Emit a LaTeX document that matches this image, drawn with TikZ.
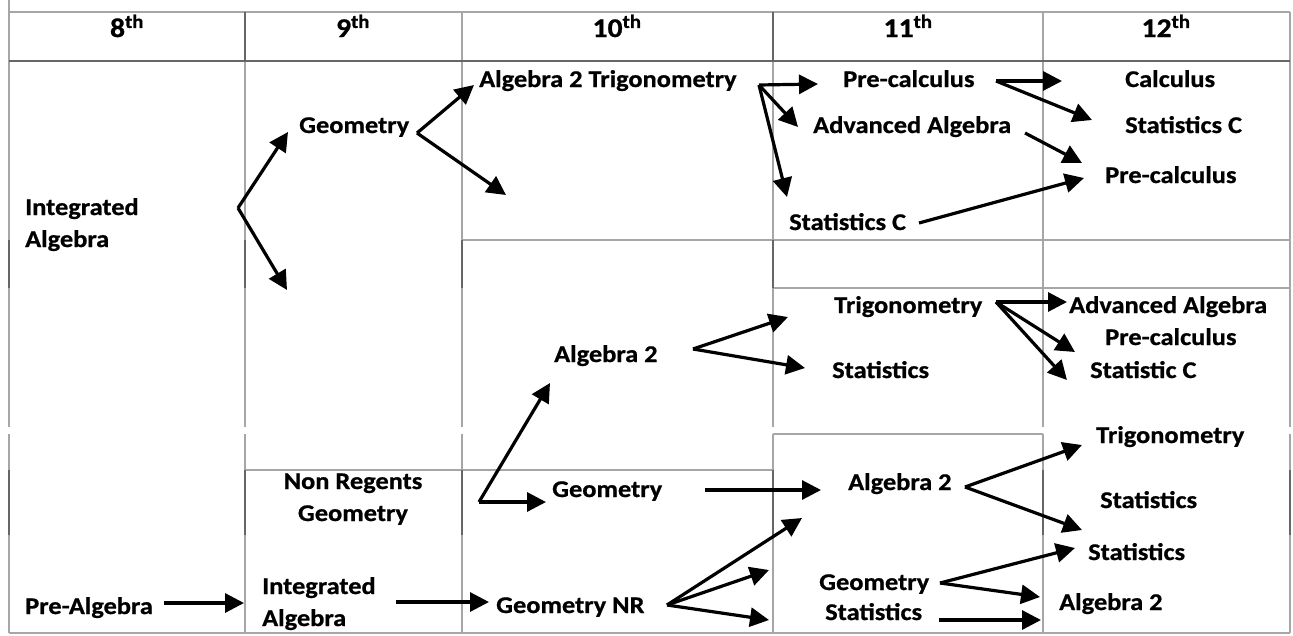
\documentclass[tikz,border=0pt]{standalone}
\usepackage{fontspec}
\setmainfont{Carlito}[FakeStretch=1.1, BoldFeatures={FakeBold=0.8}]
\usetikzlibrary{arrows.meta}

\begin{document}
\begin{tikzpicture}[x=1pt, y=-1pt,
    rule/.style={draw=gray!70, line width=2pt},
    ruledark/.style={draw=black!60, line width=2.2pt},
    course/.style={font=\bfseries\fontsize{24}{32}\selectfont, inner sep=0pt, anchor=base west},
    grade/.style={font=\bfseries\fontsize{27}{30}\selectfont, inner sep=0pt, anchor=base},
    arr/.style={line width=3.2pt, -{Triangle[length=19pt,width=19pt]}},
]
\useasboundingbox (0,0) rectangle (1293,635);

% Table rules
\foreach \x in {9,245,462,773,1043,1290}
  \draw[rule] (\x,12) -- (\x,427) (\x,434) -- (\x,633);
\draw[rule] (9,0) -- (9,12);
\draw[rule] (9,12) -- (1290,12);
\draw[ruledark] (9,61) -- (1290,61);
\draw[rule] (462,240) -- (1290,240);
\draw[rule] (773,288) -- (1290,288);
\draw[rule] (773,434) -- (1043,434);
\draw[rule] (245,470) -- (773,470);
\draw[rule] (9,633) -- (1290,633);
\foreach \x in {9,245,462,773}
  \draw[ruledark] (\x,240) -- (\x,288);
\foreach \x in {9,245,462,773,1043,1290}
  \draw[ruledark] (\x,470) -- (\x,535);
\foreach \x in {245,773}
  \draw[ruledark] (\x,12) -- (\x,61);

% Grade headers
\foreach \g/\x in {8/127,9/353,10/617,11/908,12/1166}
  \node[grade] (g\g) at (\x,37) {\g\textsuperscript{th}};

% 8th grade
\node[course, align=left] (ia8) at (25,247) {Integrated\\Algebra};
\node[course] (prealg8) at (25,614) {Pre-Algebra};

% 9th grade
\node[course] (geo9) at (299,133) {Geometry};
\node[course, align=center, anchor=base] (nrgeo9) at (353,521) {Non Regents\\Geometry};
\node[course, align=left] (ia9) at (262,626) {Integrated\\Algebra};

% 10th grade
\node[course] (a2trig10) at (479,87) {Algebra 2 Trigonometry};
\node[course] (alg2-10) at (554,362) {Algebra 2};
\node[course] (geo10) at (552,497) {Geometry};
\node[course] (geonr10) at (496,613) {Geometry NR};

% 11th grade
\node[course] (precalc11) at (843,87) {Pre-calculus};
\node[course] (advalg11) at (813,133) {Advanced Algebra};
\node[course] (statc11) at (789,230) {Statistics C};
\node[course] (trig11) at (834,313) {Trigonometry};
\node[course] (stats11) at (832,378) {Statistics};
\node[course] (alg2-11) at (848,490) {Algebra 2};
\node[course] (geo11) at (819,590) {Geometry};
\node[course] (statsb11) at (825,620) {Statistics};

% 12th grade
\node[course] (calc12) at (1125,87) {Calculus};
\node[course] (statc12) at (1125,133) {Statistics C};
\node[course] (precalc12) at (1105,183) {Pre-calculus};
\node[course] (advalg12) at (1069,313) {Advanced Algebra};
\node[course] (precalcb12) at (1105,345) {Pre-calculus};
\node[course] (statc12b) at (1090,378) {Statistic C};
\node[course] (trig12) at (1096,443) {Trigonometry};
\node[course] (stats12) at (1100,508) {Statistics};
\node[course] (statsb12) at (1088,560) {Statistics};
\node[course] (alg2-12) at (1059,610) {Algebra 2};

% Arrow forks and tips
\coordinate (ia8-fork) at (238,208);
\coordinate (ia8-up) at (288,132);
\coordinate (ia8-down) at (287,290);
\coordinate (geo9-fork) at (417,133);
\coordinate (geo9-up) at (474,85);
\coordinate (geo9-down) at (506,195);
\coordinate (a2trig10-fork) at (759,85);
\coordinate (a2trig10-a) at (818,84);
\coordinate (a2trig10-b) at (798,127);
\coordinate (a2trig10-c) at (787,197);
\coordinate (precalc11-fork) at (996,81);
\coordinate (precalc11-a) at (1062,81);
\coordinate (precalc11-b) at (1092,120);
\coordinate (advalg11-out) at (1025,133);
\coordinate (advalg11-to) at (1082,163);
\coordinate (statc11-out) at (919,223);
\coordinate (statc11-to) at (1084,178);
\coordinate (alg2-10-fork) at (693,349);
\coordinate (alg2-10-a) at (788,317);
\coordinate (alg2-10-b) at (805,368);
\coordinate (trig11-fork) at (996,302);
\coordinate (trig11-a) at (1067,302);
\coordinate (trig11-b) at (1075,352);
\coordinate (trig11-c) at (1067,380);
\coordinate (nr10-fork) at (479,502);
\coordinate (nr10-up) at (550,383);
\coordinate (nr10-right) at (546,502);
\coordinate (geo10-out) at (705,490);
\coordinate (geo10-to) at (821,490);
\coordinate (alg2-11-fork) at (965,487);
\coordinate (alg2-11-a) at (1082,445);
\coordinate (alg2-11-b) at (1082,530);
\coordinate (geonr10-fork) at (667,605);
\coordinate (geonr10-a) at (802,518);
\coordinate (geonr10-b) at (769,570);
\coordinate (geonr10-c) at (769,620);
\coordinate (geo11-fork) at (940,583);
\coordinate (geo11-a) at (1075,548);
\coordinate (geo11-b) at (1040,597);
\coordinate (statsb11-out) at (939,620);
\coordinate (statsb11-to) at (1041,620);
\coordinate (prealg8-out) at (164,603);
\coordinate (prealg8-to) at (244,603);
\coordinate (ia9-out) at (396,602);
\coordinate (ia9-to) at (489,602);

% Arrows
\draw[arr] (ia8-fork) -- (ia8-up);
\draw[arr] (ia8-fork) -- (ia8-down);
\draw[arr] (geo9-fork) -- (geo9-up);
\draw[arr] (geo9-fork) -- (geo9-down);
\foreach \t in {a,b,c}
  \draw[arr] (a2trig10-fork) -- (a2trig10-\t);
\foreach \t in {a,b}
  \draw[arr] (precalc11-fork) -- (precalc11-\t);
\draw[arr] (advalg11-out) -- (advalg11-to);
\draw[arr] (statc11-out) -- (statc11-to);
\foreach \t in {a,b}
  \draw[arr] (alg2-10-fork) -- (alg2-10-\t);
\foreach \t in {a,b,c}
  \draw[arr] (trig11-fork) -- (trig11-\t);
\draw[arr] (nr10-fork) -- (nr10-up);
\draw[arr] (nr10-fork) -- (nr10-right);
\draw[arr] (geo10-out) -- (geo10-to);
\foreach \t in {a,b}
  \draw[arr] (alg2-11-fork) -- (alg2-11-\t);
\foreach \t in {a,b,c}
  \draw[arr] (geonr10-fork) -- (geonr10-\t);
\foreach \t in {a,b}
  \draw[arr] (geo11-fork) -- (geo11-\t);
\draw[arr] (statsb11-out) -- (statsb11-to);
\draw[arr] (prealg8-out) -- (prealg8-to);
\draw[arr] (ia9-out) -- (ia9-to);

\end{tikzpicture}
\end{document}
